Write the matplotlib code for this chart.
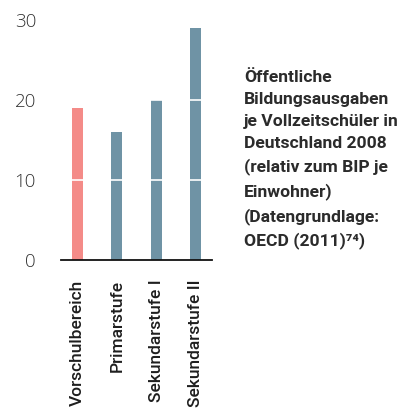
import numpy as np
import matplotlib
matplotlib.use("Agg")
import matplotlib.pyplot as plt

# data
categories = ["Vorschulbereich", "Primarstufe", "Sekundarstufe I", "Sekundarstufe II"]
values = [19, 16, 20, 29]
bar_colors = ["#F48B88", "#6F93A5", "#6F93A5", "#6F93A5"]
yticks = [0, 10, 20, 30]
note = ("Öffentliche\nBildungsausgaben\nje Vollzeitschüler in\nDeutschland 2008\n"
        "(relativ zum BIP je\nEinwohner)\n(Datengrundlage:\nOECD (2011)⁷⁴)")

W, H = 405, 412
fig = plt.figure(figsize=(W / 100, H / 100), dpi=100)
ax = fig.add_axes([61 / W, (H - 260) / H, 151 / W, 240 / H])

x = np.arange(len(categories))
ax.bar(x, values, width=0.28, color=bar_colors, zorder=2)

# white separators across the bars
for y in yticks[1:-1]:
    ax.axhline(y, color="white", lw=1.2, zorder=3)

ax.set_xlim(-0.42, 3.42)
ax.set_ylim(0, 30)
ax.set_yticks(yticks)
ax.set_yticklabels([str(v) for v in yticks], fontfamily="Open Sans",
                   fontweight="light", fontsize=13.5, color="#333333")
ax.set_xticks(x)
ax.set_xticklabels(categories, rotation=90, va="top", ha="center",
                   fontfamily="Roboto", fontweight="medium", fontsize=12.5,
                   color="#1e1e1e")
ax.tick_params(axis="both", length=0)
ax.tick_params(axis="y", pad=18)
ax.tick_params(axis="x", pad=14)

for s in ["top", "right", "left"]:
    ax.spines[s].set_visible(False)
ax.spines["bottom"].set_color("#111111")
ax.spines["bottom"].set_linewidth(1.3)
ax.spines["bottom"].set_zorder(4)

fig.text(244 / W, 1 - 70 / H, note, ha="left", va="top",
         family=["Roboto", "DejaVu Sans"], fontweight="bold",
         fontsize=12.6, color="#2b2b2b", linespacing=1.58)

fig.savefig("out.png", dpi=100)
